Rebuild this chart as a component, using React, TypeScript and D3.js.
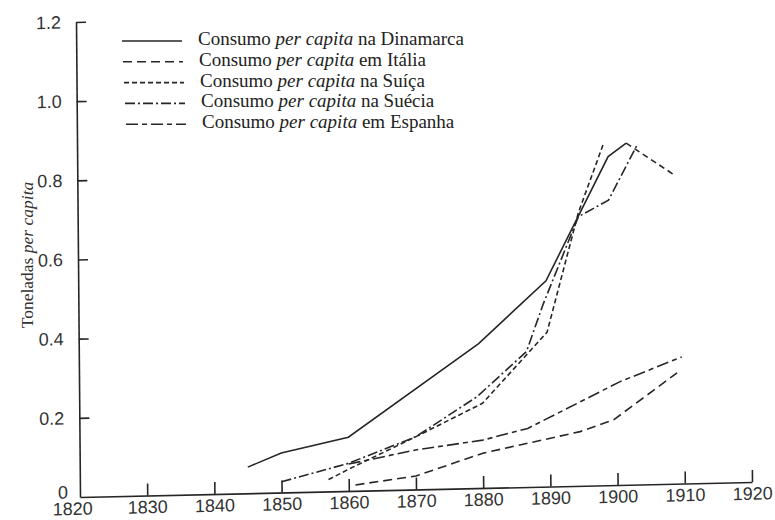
import { useEffect, useRef } from 'react';
import * as d3 from 'd3';

// values (years, tonnes per capita)
const denmarkYears = [1845, 1850, 1860, 1879.5, 1889.6, 1899, 1901.7];
const denmarkValues = [0.066, 0.1, 0.136, 0.365, 0.52, 0.83, 0.863];
const denmarkTailYears = [1901.7, 1909];
const denmarkTailValues = [0.863, 0.778];

const italyYears = [1861, 1870, 1880, 1894.5, 1899.5, 1909];
const italyValues = [0.015, 0.034, 0.088, 0.137, 0.165, 0.28];

const swissYears = [1857, 1860, 1870, 1880, 1889.7, 1894.5, 1898.3];
const swissValues = [0.03, 0.055, 0.133, 0.214, 0.39, 0.69, 0.862];

const swedenYears = [1850, 1860, 1870, 1879.2, 1886.6, 1889.2, 1894.5, 1899, 1903.3];
const swedenValues = [0.027, 0.07, 0.133, 0.231, 0.342, 0.463, 0.68, 0.72, 0.857];

const spainYears = [1860, 1870, 1880, 1886.7, 1900.5, 1909.7];
const spainValues = [0.068, 0.1, 0.121, 0.148, 0.261, 0.32];

const xTicks = [1820, 1830, 1840, 1850, 1860, 1870, 1880, 1890, 1900, 1910, 1920];
const yTicks = [0, 0.2, 0.4, 0.6, 0.8, 1.0, 1.2];

const legendPlaces = ['na Dinamarca', 'em Itália', 'na Suíça', 'na Suécia', 'em Espanha'];
const legendDashes = ['', '9,5', '5,3', '10,3,2,3', '12,4,5,4'];

const INK = '#262626';

export default function App() {
  const svgRef = useRef<SVGSVGElement>(null);

  useEffect(() => {
    if (!svgRef.current) return;
    const svg = d3.select(svgRef.current);
    svg.selectAll('*').remove();

    const x = d3.scaleLinear().domain([1820, 1920]).range([0, 672]);
    const y = d3.scaleLinear().domain([0, 1.2]).range([0, -475]);

    // the scanned page is a little skewed, so the plot is too
    const plot = svg.append('g')
      .attr('transform', 'translate(80,497) matrix(1,-0.0223,0.0084,1,0,0)');

    const xAxis = plot.append('g')
      .call(d3.axisBottom(x).tickValues(xTicks).tickFormat(d3.format('d'))
        .tickSizeInner(-12).tickSizeOuter(0).tickPadding(5));
    xAxis.selectAll('.tick').filter((d: any) => d === 1820).select('line').remove();
    xAxis.selectAll('.tick').filter((d: any) => d === 1820).select('text').attr('x', -8);

    const yAxis = plot.append('g')
      .call(d3.axisLeft(y).tickValues(yTicks)
        .tickFormat((d: any) => (d === 0 ? '0' : d3.format('.1f')(d)))
        .tickSizeInner(-10).tickSizeOuter(0).tickPadding(15));
    yAxis.selectAll('.tick').filter((d: any) => d === 0).select('line').remove();
    yAxis.selectAll('.tick').filter((d: any) => d === 0).select('text').attr('x', -12).attr('y', -5);

    [xAxis, yAxis].forEach((g) => {
      g.attr('color', INK)
        .attr('font-family', '"Liberation Sans", Arial, sans-serif')
        .attr('font-size', 18);
      g.selectAll('path, line').attr('stroke-width', 1.6);
      g.selectAll('text').attr('fill', '#333');
    });

    const line = d3.line<[number, number]>()
      .x((d) => x(d[0]))
      .y((d) => y(d[1]));

    const zip = (xs: number[], vs: number[]) => xs.map((v, i) => [v, vs[i]] as [number, number]);

    const series = [
      { pts: zip(denmarkYears, denmarkValues), dash: '' },
      { pts: zip(denmarkTailYears, denmarkTailValues), dash: '6,4' },
      { pts: zip(italyYears, italyValues), dash: legendDashes[1] },
      { pts: zip(swissYears, swissValues), dash: legendDashes[2] },
      { pts: zip(swedenYears, swedenValues), dash: legendDashes[3] },
      { pts: zip(spainYears, spainValues), dash: legendDashes[4] },
    ];

    plot.append('g')
      .selectAll('path')
      .data(series)
      .join('path')
      .attr('d', (d) => line(d.pts))
      .attr('fill', 'none')
      .attr('stroke', INK)
      .attr('stroke-width', 1.6)
      .attr('stroke-dasharray', (d) => d.dash || null);

    // y axis title
    const title = svg.append('text')
      .attr('transform', 'translate(33,255) rotate(-90)')
      .attr('text-anchor', 'middle')
      .attr('font-family', '"Liberation Serif", "Times New Roman", serif')
      .attr('font-size', 17.5)
      .attr('fill', '#333');
    title.append('tspan').text('Toneladas ');
    title.append('tspan').attr('font-style', 'italic').text('per capita');

    // legend
    const legend = svg.append('g');
    const rows = legend.selectAll('g')
      .data(legendPlaces)
      .join('g')
      .attr('transform', (_d, i) => `translate(0,${45 + i * 20.8})`);

    rows.append('line')
      .attr('x1', (_d, i) => 122 + i)
      .attr('x2', (_d, i) => 182 + i)
      .attr('y1', -4)
      .attr('y2', -4)
      .attr('stroke', INK)
      .attr('stroke-width', 1.6)
      .attr('stroke-dasharray', (_d, i) => legendDashes[i] || null);

    const label = rows.append('text')
      .attr('x', (_d, i) => 198 + i)
      .attr('font-family', '"Liberation Serif", "Times New Roman", serif')
      .attr('font-size', 19)
      .attr('fill', '#222');
    label.append('tspan').text('Consumo ');
    label.append('tspan').attr('font-style', 'italic').text('per capita');
    label.append('tspan').text((d) => ' ' + d);
  }, []);

  return (
    <svg
      ref={svgRef}
      width={775}
      height={520}
      style={{ position: 'absolute', left: 0, top: 0, background: '#fff' }}
    />
  );
}
